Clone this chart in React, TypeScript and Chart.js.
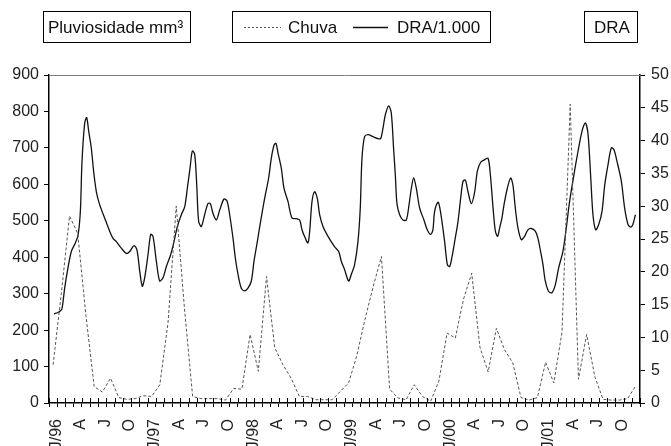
import React, { useEffect, useRef } from 'react';
import { Chart, registerables } from 'chart.js';

Chart.register(...registerables);

const FONT = "'Liberation Sans', Arial, Helvetica, sans-serif";

// Quarter labels shown on the month axis (Jan, Apr, Jul, Oct of each year)
const quarterLabels = [
  'J/96', 'A', 'J', 'O',
  'J/97', 'A', 'J', 'O',
  'J/98', 'A', 'J', 'O',
  'J/99', 'A', 'J', 'O',
  'J/00', 'A', 'J', 'O',
  'J/01', 'A', 'J', 'O',
];
const monthLabels: string[] = quarterLabels.flatMap((q) => [q, '', '']);

// Monthly rainfall (mm), Jan/1996 .. Dec/2001
const chuva = [
  105, 300, 513, 465, 240, 45, 30, 68, 15, 10, 12, 20,
  18, 50, 220, 540, 260, 18, 12, 12, 12, 8, 40, 38,
  188, 87, 347, 152, 105, 68, 18, 18, 9, 9, 9, 32,
  55, 130, 230, 320, 402, 38, 14, 9, 50, 18, 5, 60,
  192, 178, 285, 356, 153, 85, 205, 146, 110, 15, 8, 15,
  112, 55, 195, 820, 65, 188, 72, 10, 8, 8, 12, 48,
];

// DRA/1.000 series: time in months since Jan/1996 and value (right axis)
const draMonth = [
  0.61, 1.1, 1.43, 1.59, 1.91, 2.24, 2.72, 3.21, 3.54, 3.82,
  4.02, 4.35, 4.59, 4.84, 5.16, 5.44, 5.77, 6.18, 6.78, 7.39,
  7.8, 8.2, 8.81, 9.42, 9.83, 10.36, 10.72, 11.05, 11.37, 11.66,
  12.06, 12.39, 12.67, 13.08, 13.48, 13.89, 14.3, 14.82, 15.23, 15.64,
  16.12, 16.53, 16.85, 17.18, 17.46, 17.75, 18.0, 18.23, 18.56, 18.96,
  19.37, 19.65, 19.98, 20.39, 20.79, 21.32, 21.69, 22.01, 22.42, 22.7,
  23.03, 23.43, 23.84, 24.24, 24.65, 24.97, 25.38, 25.78, 26.27, 26.76,
  27.08, 27.41, 27.65, 27.9, 28.3, 28.63, 29.12, 29.6, 30.13, 30.54,
  30.82, 31.23, 31.55, 31.76, 32.04, 32.36, 32.69, 32.97, 33.38, 33.99,
  34.8, 35.29, 35.61, 36.02, 36.5, 36.83, 37.23, 37.64, 37.92, 38.13,
  38.45, 38.87, 39.47, 40.08, 40.4, 40.69, 40.97, 41.38, 41.7, 41.98,
  42.19, 42.39, 42.72, 43.12, 43.53, 43.86, 44.14, 44.43, 44.75, 45.16,
  45.68, 46.08, 46.49, 46.77, 46.98, 47.39, 47.59, 47.87, 48.2, 48.53,
  48.81, 49.1, 49.42, 49.83, 50.15, 50.44, 50.72, 51.05, 51.45, 51.86,
  52.18, 52.59, 53.08, 53.49, 53.77, 54.1, 54.38, 54.65, 54.9, 55.18,
  55.43, 55.83, 56.24, 56.52, 56.81, 57.13, 57.54, 57.94, 58.35, 58.75,
  59.24, 59.57, 59.89, 60.18, 60.46, 60.87, 61.27, 61.68, 62.09, 62.61,
  63.02, 63.42, 63.95, 64.44, 64.93, 65.33, 65.66, 65.98, 66.27, 66.6,
  66.97, 67.37, 67.7, 68.1, 68.51, 68.83, 69.24, 69.73, 70.13, 70.54,
  70.87, 71.15, 71.44,
];
const draValue = [
  13.6, 13.8, 14.1, 14.4, 17.5, 20.1, 23.1, 24.4, 25.6, 29.2,
  36.8, 42.7, 43.5, 41.4, 38.8, 35.3, 32.2, 30.2, 28.2, 26.2,
  25.1, 24.6, 23.6, 22.8, 23.1, 24.0, 23.3, 20.1, 17.8, 19.1,
  22.6, 25.7, 25.4, 21.6, 18.6, 19.1, 20.8, 22.6, 24.6, 26.9,
  28.7, 29.9, 32.7, 35.8, 38.4, 37.9, 33.2, 27.7, 26.9, 28.7,
  30.4, 30.4, 28.9, 27.9, 29.4, 31.1, 30.8, 28.7, 25.1, 22.1,
  19.6, 17.5, 17.1, 17.5, 18.6, 21.6, 24.6, 27.7, 31.2, 34.3,
  37.3, 39.3, 39.6, 38.1, 35.8, 32.7, 30.7, 28.2, 28.1, 27.9,
  26.4, 25.1, 24.4, 26.2, 30.7, 32.2, 31.2, 28.7, 26.9, 25.4,
  23.8, 23.1, 21.6, 20.3, 18.6, 19.6, 21.1, 24.6, 29.7, 37.3,
  40.6, 40.9, 40.6, 40.3, 40.3, 41.9, 43.9, 45.3, 44.2, 38.8,
  34.8, 30.4, 28.7, 27.9, 27.9, 30.2, 32.7, 34.3, 32.7, 29.7,
  27.9, 26.4, 25.7, 26.4, 29.2, 30.6, 29.9, 27.7, 24.6, 21.1,
  20.8, 22.3, 24.6, 27.7, 31.2, 33.8, 34.0, 32.2, 30.4, 32.2,
  35.3, 36.7, 37.1, 37.3, 34.8, 29.7, 26.2, 25.4, 26.7, 28.2,
  30.2, 32.7, 34.3, 33.2, 29.7, 26.7, 24.9, 25.4, 26.4, 26.6,
  26.2, 25.1, 23.1, 21.1, 18.6, 17.0, 16.8, 18.0, 20.6, 23.1,
  26.7, 30.7, 34.8, 38.3, 41.4, 42.7, 41.1, 34.8, 28.7, 26.4,
  27.2, 29.2, 33.2, 36.3, 38.9, 38.6, 36.6, 33.8, 29.7, 27.2,
  26.8, 27.3, 28.7,
];

const leftAxisTitle = 'Pluviosidade mm³';
const rightAxisTitle = 'DRA';
const seriesNames = ['Chuva', 'DRA/1.000'];

const decorPlugin = {
  id: 'decor',
  afterDraw(chart: any) {
    const { ctx, chartArea } = chart;
    const xv = chart.scales.xv;
    ctx.save();
    // top frame line
    ctx.strokeStyle = '#808080';
    ctx.lineWidth = 1;
    ctx.beginPath();
    ctx.moveTo(chartArea.left, Math.round(chartArea.top) + 0.5);
    ctx.lineTo(chartArea.right, Math.round(chartArea.top) + 0.5);
    ctx.stroke();
    // inner half of the month tick marks
    ctx.strokeStyle = '#000';
    ctx.beginPath();
    for (let k = 0; k <= monthLabels.length; k++) {
      const x = Math.round(xv.getPixelForValue(k)) + 0.5;
      ctx.moveTo(x, chartArea.bottom - 5);
      ctx.lineTo(x, chartArea.bottom);
    }
    ctx.stroke();

    // boxes
    const box = (x1: number, x2: number) => {
      ctx.strokeStyle = '#000';
      ctx.lineWidth = 1;
      ctx.strokeRect(x1 + 0.5, 11.5, x2 - x1, 31);
    };
    ctx.fillStyle = '#111';
    ctx.font = `17px ${FONT}`;
    ctx.textBaseline = 'middle';
    ctx.textAlign = 'left';

    box(43, 190);
    ctx.fillText(leftAxisTitle, 48, 28);

    box(232, 490);
    ctx.setLineDash([2, 2]);
    ctx.strokeStyle = '#555';
    ctx.beginPath();
    ctx.moveTo(244, 27.5);
    ctx.lineTo(281, 27.5);
    ctx.stroke();
    ctx.setLineDash([]);
    ctx.fillText(seriesNames[0], 288, 28);
    ctx.strokeStyle = '#111';
    ctx.lineWidth = 1.3;
    ctx.beginPath();
    ctx.moveTo(353, 27.5);
    ctx.lineTo(388, 27.5);
    ctx.stroke();
    ctx.fillText(seriesNames[1], 397, 28);

    box(584, 637);
    ctx.fillText(rightAxisTitle, 594, 28);
    ctx.restore();
  },
};

export default function App() {
  const ref = useRef<HTMLCanvasElement | null>(null);

  useEffect(() => {
    if (!ref.current) return;
    const tickFont = { size: 16, family: FONT };
    const chart = new Chart(ref.current, {
      type: 'line',
      data: {
        labels: monthLabels,
        datasets: [
          {
            label: seriesNames[0],
            data: chuva.map((v, i) => ({ x: i + 0.5, y: v })),
            xAxisID: 'xv',
            yAxisID: 'y',
            borderColor: '#555',
            borderWidth: 1,
            borderDash: [3, 2],
            pointRadius: 0,
            tension: 0,
            fill: false,
          },
          {
            label: seriesNames[1],
            data: draMonth.map((m, i) => ({ x: m, y: draValue[i] })),
            xAxisID: 'xv',
            yAxisID: 'y2',
            borderColor: '#111',
            borderWidth: 1.3,
            pointRadius: 0,
            tension: 0.3,
            fill: false,
          },
        ],
      },
      options: {
        responsive: false,
        animation: false,
        layout: { padding: { top: 75, left: 0, right: 0, bottom: 0 } },
        plugins: { legend: { display: false }, tooltip: { enabled: false } },
        scales: {
          x: {
            type: 'category',
            position: 'bottom',
            offset: true,
            grid: {
              offset: true,
              drawOnChartArea: false,
              drawTicks: true,
              tickLength: 4,
              color: '#000',
              lineWidth: 1,
            },
            border: { display: true, color: '#000', width: 1.5 },
            ticks: {
              autoSkip: false,
              maxRotation: 90,
              minRotation: 90,
              padding: 12,
              labelOffset: 3,
              color: '#222',
              font: tickFont,
            },
            afterFit: (s: any) => {
              s.height = 43;
            },
          },
          xv: {
            type: 'linear',
            display: false,
            min: 0,
            max: monthLabels.length,
          },
          y: {
            type: 'linear',
            position: 'left',
            min: 0,
            max: 900,
            ticks: { stepSize: 100, padding: 5, color: '#222', font: tickFont },
            grid: { drawOnChartArea: false, tickLength: 5, color: '#000' },
            border: { display: true, color: '#000', width: 1.5 },
            afterFit: (s: any) => {
              s.width = 49;
            },
          },
          y2: {
            type: 'linear',
            position: 'right',
            min: 0,
            max: 50,
            ticks: { stepSize: 5, padding: 6, color: '#222', font: tickFont },
            grid: { drawOnChartArea: false, tickLength: 5, color: '#000' },
            border: { display: true, color: '#000', width: 1.5 },
            afterFit: (s: any) => {
              s.width = 31;
            },
          },
        },
      },
      plugins: [decorPlugin],
    } as any);
    return () => chart.destroy();
  }, []);

  return (
    <div style={{ position: 'absolute', left: 0, top: 0, width: 671, height: 446, background: '#fff' }}>
      <canvas ref={ref} width={671} height={446} style={{ width: 671, height: 446, display: 'block' }} />
    </div>
  );
}
